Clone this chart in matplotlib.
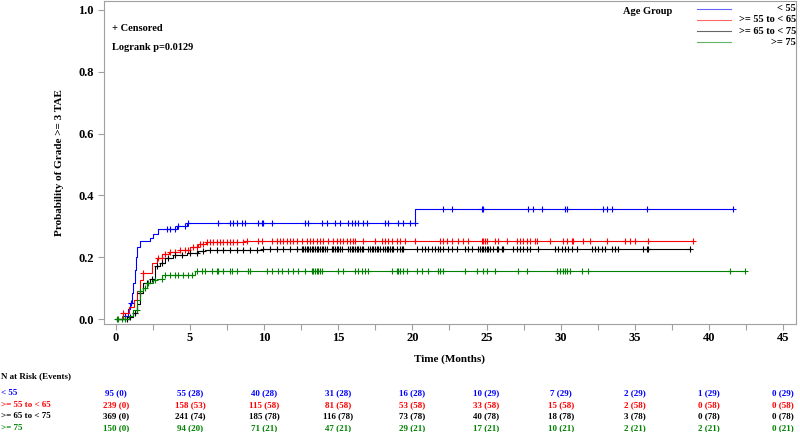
import numpy as np
import matplotlib
matplotlib.use('Agg')
from matplotlib import pyplot as plt
from matplotlib.ticker import MultipleLocator

plt.rcParams['font.family'] = ['Liberation Serif', 'DejaVu Serif']
plt.rcParams['font.weight'] = 'bold'

groups = ['< 55', '>= 55 to < 65', '>= 65 to < 75', '>= 75']
colors = ['#0000FF', '#FF0000', '#000000', '#008000']

# event step points (time in months, cumulative probability)
t_lt55 = [0, 0.6, 0.8, 0.95, 1.05, 1.15, 1.25, 1.35, 1.45, 1.6, 2.3, 2.5, 2.85, 4.1, 4.8, 20.2]
p_lt55 = [0, 0.011, 0.032, 0.053, 0.084, 0.116, 0.158, 0.2, 0.232, 0.253, 0.263, 0.274, 0.292, 0.302, 0.312, 0.355]
t_55_65 = [0, 0.5, 0.9, 1.2, 1.4, 1.6, 1.8, 2.4, 2.75, 3.1, 3.6, 4.3, 5.0, 5.5, 6.1, 8.6]
p_55_65 = [0, 0.02, 0.04, 0.06, 0.09, 0.125, 0.15, 0.18, 0.197, 0.21, 0.216, 0.222, 0.232, 0.243, 0.248, 0.253]
t_65_75 = [0, 0.9, 1.16, 1.4, 1.6, 1.8, 2.3, 2.6, 3.0, 3.3, 3.85, 4.8, 5.5, 6.0, 9.9]
p_65_75 = [0, 0.006, 0.02, 0.05, 0.085, 0.115, 0.13, 0.17, 0.18, 0.197, 0.207, 0.212, 0.22, 0.224, 0.227]
t_ge75 = [0, 0.9, 1.15, 1.4, 1.6, 1.8, 2.1, 2.5, 2.75, 3.1, 5.3]
p_ge75 = [0, 0.01, 0.03, 0.06, 0.09, 0.10, 0.115, 0.125, 0.13, 0.142, 0.155]
end_times = [41.65, 38.95, 38.8, 42.44]

# censored times
c_lt55 = [0.6, 1.0, 3.42, 3.64, 3.98, 4.2, 4.66, 4.88, 6.9, 7.69, 7.92, 8.14, 8.48, 8.7, 9.6, 9.83,
          9.94, 10.5, 12.75, 12.98, 13.88, 14.21, 14.77, 15.11, 15.67, 15.9, 16.13, 16.35, 16.69,
          16.92, 18.15, 18.38, 19.05, 19.39, 19.84, 20.17, 22.09, 22.65, 24.67, 24.78, 27.82, 28.15,
          28.72, 30.3, 30.41, 32.88, 33.1, 33.45, 35.81, 41.65]
c_55_65 = [0.5, 1.84, 2.86, 3.08, 3.31, 3.64, 3.98, 4.32, 4.66, 4.88, 5.22, 5.44, 5.67, 5.89, 6.12,
           6.34, 6.57, 6.79, 7.02, 7.24, 7.47, 7.69, 7.92, 8.14, 8.59, 8.82, 9.6, 9.83, 10.5, 10.84,
           11.07, 11.29, 11.52, 11.74, 11.97, 12.19, 12.53, 12.87, 13.09, 13.32, 13.54, 13.77, 13.99,
           14.33, 14.66, 14.89, 15.11, 15.34, 15.56, 15.79, 16.01, 16.13, 16.69, 17.48, 17.93, 18.15,
           18.38, 18.6, 18.94, 19.16, 19.5, 20.17, 21.86, 22.09, 22.31, 22.65, 23.1, 23.43, 23.77,
           24.67, 24.78, 24.9, 25.01, 25.57, 25.8, 26.36, 27.03, 27.26, 27.48, 27.71, 27.93, 28.27,
           28.38, 29.28, 30.18, 30.41, 30.74, 30.86, 31.53, 31.98, 33.11, 34.34, 34.68, 35.02, 35.92,
           38.95]
c_65_75 = [0.72, 0.94, 1.28, 1.62, 2.07, 2.41, 2.74, 3.08, 3.53, 3.98, 4.43, 4.99, 5.44, 5.89, 6.34,
           6.79, 7.24, 7.69, 8.14, 8.59, 9.04, 9.49, 9.94, 10.39, 10.84, 11.29, 11.74, 12.19, 12.53,
           12.64, 12.75, 12.87, 12.98, 13.09, 13.2, 13.32, 13.43, 13.54, 13.65, 13.77, 13.88, 13.99,
           14.1, 14.21, 14.55, 14.66, 14.78, 14.89, 15.0, 15.11, 15.23, 15.68, 15.79, 15.9, 16.01,
           16.13, 16.24, 16.35, 16.46, 16.58, 16.69, 17.03, 17.14, 17.25, 17.36, 17.48, 17.59, 17.7,
           17.81, 18.04, 18.15, 18.26, 18.38, 18.49, 18.6, 18.71, 18.94, 19.16, 19.27, 19.39, 20.29,
           20.62, 20.85, 21.07, 21.3, 21.52, 21.75, 21.86, 22.09, 22.42, 22.65, 22.99, 23.55, 23.77,
           24.0, 24.45, 24.56, 24.67, 24.78, 24.9, 25.01, 25.12, 25.23, 25.46, 25.68, 25.8, 26.02,
           26.13, 26.81, 27.03, 27.26, 27.48, 27.71, 27.93, 28.5, 29.62, 29.85, 30.07, 30.3, 30.52,
           30.74, 31.08, 32.09, 32.32, 32.54, 32.77, 32.99, 33.44, 33.67, 33.89, 35.58, 35.81, 35.92,
           38.73]
c_ge75 = [0.1, 0.16, 0.38, 0.61, 1.39, 1.62, 1.96, 2.18, 2.63, 3.08, 3.31, 3.64, 3.98, 4.21, 4.54,
          4.88, 5.11, 5.44, 5.78, 6.0, 6.45, 6.79, 6.9, 7.24, 7.69, 7.8, 8.14, 8.93, 9.04, 10.17, 10.5,
          10.95, 11.18, 11.63, 11.97, 12.3, 12.75, 13.2, 13.32, 13.43, 13.54, 13.65, 13.77, 13.88,
          15.0, 15.34, 16.13, 16.35, 16.58, 16.8, 17.03, 18.6, 18.94, 19.05, 19.16, 19.39, 19.61,
          20.29, 20.62, 21.07, 21.75, 21.86, 22.09, 23.55, 24.34, 24.78, 25.01, 25.57, 27.15, 27.71,
          29.73, 29.96, 30.18, 30.3, 30.41, 30.63, 31.42, 31.87, 41.43, 42.44]

# number at risk table
risk_times = [0, 5, 10, 15, 20, 25, 30, 35, 40, 45]
risk_lt55 = ['95 (0)', '55 (28)', '40 (28)', '31 (28)', '16 (28)', '10 (29)', '7 (29)', '2 (29)', '1 (29)', '0 (29)']
risk_55_65 = ['239 (0)', '158 (53)', '115 (58)', '81 (58)', '53 (58)', '33 (58)', '15 (58)', '2 (58)', '0 (58)', '0 (58)']
risk_65_75 = ['369 (0)', '241 (74)', '185 (78)', '116 (78)', '73 (78)', '40 (78)', '18 (78)', '3 (78)', '0 (78)', '0 (78)']
risk_ge75 = ['150 (0)', '94 (20)', '71 (21)', '47 (21)', '29 (21)', '17 (21)', '10 (21)', '2 (21)', '2 (21)', '0 (21)']

steps_t = [t_lt55, t_55_65, t_65_75, t_ge75]
steps_p = [p_lt55, p_55_65, p_65_75, p_ge75]
censors = [c_lt55, c_55_65, c_65_75, c_ge75]
risks = [risk_lt55, risk_55_65, risk_65_75, risk_ge75]

fig = plt.figure(figsize=(8, 4.32), dpi=100)
ax = fig.add_axes([0.13, 0.25, 0.865, 0.748])

for ts, ps, cs, end, col in zip(steps_t, steps_p, censors, end_times, colors):
    tt = np.array(ts + [end])
    pp = np.array(ps + [ps[-1]])
    ax.step(tt, pp, where='post', color=col, lw=0.8)
    cs = np.array(cs)
    idx = np.searchsorted(np.array(ts), cs, side='right') - 1
    ax.plot(cs, np.array(ps)[idx], ls='none', marker='+', color=col, ms=4.5, mew=0.8)

ax.set_xlim(-0.81, 45.88)
ax.set_ylim(-0.016, 1.029)
ax.xaxis.set_major_locator(MultipleLocator(5))
ax.xaxis.set_minor_locator(MultipleLocator(2.5))
ax.set_yticks([0, 0.2, 0.4, 0.6, 0.8, 1.0])
ax.set_yticklabels(['0.0', '0.2', '0.4', '0.6', '0.8', '1.0'])
for s in ax.spines.values():
    s.set_color('#a0a0a0')
    s.set_linewidth(0.8)
ax.tick_params(axis='both', which='both', color='#a0a0a0', length=4, width=0.8, labelsize=9)
ax.tick_params(axis='x', which='minor', length=4)
ax.tick_params(axis='x', pad=2)
ax.set_xlabel('Time (Months)', fontsize=8, fontweight='bold', labelpad=7)
ax.set_ylabel('Probability of Grade >= 3 TAE', fontsize=8, fontweight='bold', labelpad=10)

ax.text(0.012, 0.913, '+ Censored', transform=ax.transAxes, fontsize=7.5, fontweight='bold', va='center')
ax.text(0.012, 0.855, 'Logrank p=0.0129', transform=ax.transAxes, fontsize=7.5, fontweight='bold', va='center')

# legend drawn in figure pixels
W, H = 800, 432
fig.text(623 / W, 1 - 12 / H, 'Age Group', fontsize=7.5, fontweight='bold', va='center')
for i, (g, col) in enumerate(zip(groups, colors)):
    y = 1 - (8.5 + 11.3 * i) / H
    fig.add_artist(plt.Line2D([697 / W, 731 / W], [y, y], color=col, lw=0.8, alpha=0.6))
    fig.text(796 / W, y, g, fontsize=7.5, fontweight='bold', ha='right', va='center')

# risk table
fig.text(0.001, 1 - 376 / H, 'N at Risk (Events)', fontsize=6.5, fontweight='bold', va='center')
for i, (g, col, row) in enumerate(zip(groups, colors, risks)):
    y = 1 - (393 + 11.7 * i) / H
    fig.text(0.001, y, g, fontsize=6.5, fontweight='bold', color=col, va='center')
    for t, s in zip(risk_times, row):
        xf = ax.transData.transform((t, 0))[0] / W
        fig.text(xf, y, s, fontsize=6.5, fontweight='bold', color=col, ha='center', va='center')

fig.savefig('out.png', dpi=100)
